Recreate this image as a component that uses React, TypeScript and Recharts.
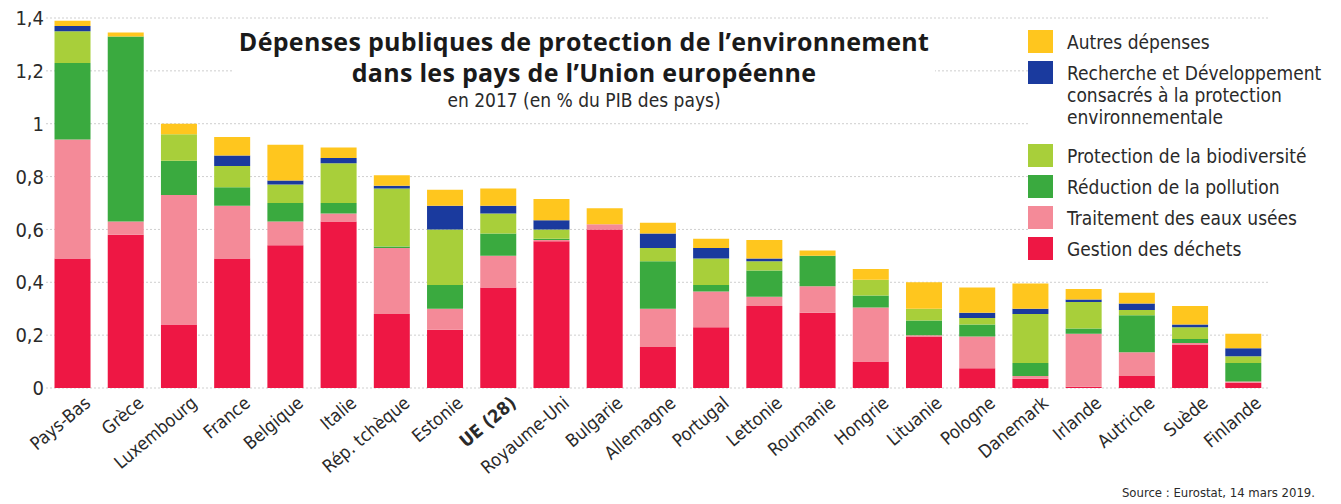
import React from 'react';
import { BarChart, Bar, XAxis, YAxis, CartesianGrid, Legend } from 'recharts';

const countries = ['Pays-Bas','Grèce','Luxembourg','France','Belgique','Italie','Rép. tchèque','Estonie','UE (28)','Royaume-Uni','Bulgarie','Allemagne','Portugal','Lettonie','Roumanie','Hongrie','Lituanie','Pologne','Danemark','Irlande','Autriche','Suède','Finlande'];
const dechets = [0.49,0.58,0.24,0.49,0.54,0.63,0.28,0.22,0.38,0.555,0.60,0.155,0.23,0.31,0.285,0.10,0.195,0.075,0.035,0.005,0.045,0.165,0.02];
const eaux = [0.45,0.05,0.49,0.20,0.09,0.03,0.25,0.08,0.12,0.005,0.02,0.145,0.135,0.035,0.10,0.205,0.005,0.12,0.01,0.20,0.09,0.005,0.005];
const pollution = [0.29,0.70,0.13,0.07,0.07,0.04,0.005,0.09,0.085,0.005,0,0.18,0.025,0.10,0.115,0.045,0.055,0.045,0.05,0.02,0.14,0.015,0.07];
const biodiv = [0.12,0,0.10,0.08,0.07,0.15,0.22,0.21,0.075,0.035,0,0.05,0.10,0.035,0,0.06,0.045,0.025,0.185,0.10,0.02,0.045,0.025];
const recherche = [0.02,0,0,0.04,0.015,0.02,0.01,0.09,0.03,0.035,0,0.055,0.04,0.01,0,0,0,0.02,0.02,0.01,0.025,0.01,0.03];
const autres = [0.02,0.015,0.04,0.07,0.135,0.04,0.04,0.06,0.065,0.08,0.06,0.04,0.035,0.07,0.02,0.04,0.10,0.095,0.095,0.04,0.04,0.07,0.055];
const yTicks = [0, 0.2, 0.4, 0.6, 0.8, 1, 1.2, 1.4];

const series = [
  { key: 'dechets', name: 'Gestion des déchets', color: '#EE1744' },
  { key: 'eaux', name: 'Traitement des eaux usées', color: '#F48A98' },
  { key: 'pollution', name: 'Réduction de la pollution', color: '#3AAA3F' },
  { key: 'biodiv', name: 'Protection de la biodiversité', color: '#A8CF3A' },
  { key: 'recherche', name: 'Recherche et Développement\nconsacrés à la protection\nenvironnementale', color: '#1A3A9E' },
  { key: 'autres', name: 'Autres dépenses', color: '#FFC61E' },
];

const data = countries.map((c, i) => ({
  country: c,
  dechets: dechets[i],
  eaux: eaux[i],
  pollution: pollution[i],
  biodiv: biodiv[i],
  recherche: recherche[i],
  autres: autres[i],
}));

const FONT = '"Liberation Sans Narrow", "DejaVu Sans Condensed", "Roboto", sans-serif';

const XTick = (props: any) => {
  const { x, y, payload } = props;
  const bold = payload.value === 'UE (28)';
  return (
    <g transform={`translate(${x + 19},${y + 15})`}>
      <text transform="rotate(-40)" textAnchor="end" fontFamily={FONT} fontSize={18} fill="#2a2a2a" fontWeight={bold ? 700 : 400}>
        {payload.value}
      </text>
    </g>
  );
};

const fmt = (v: number) => String(v).replace('.', ',');

const renderLegend = () => {
  const items = [...series].reverse();
  return (
    <div style={{ background: '#fff', fontFamily: FONT, fontSize: 19, color: '#2a2a2a', paddingTop: 2 }}>
      {items.map((p, i) => {
        const lines = p.name.split('\n');
        return (
          <div key={i} style={{ display: 'flex', alignItems: 'flex-start', marginBottom: lines.length > 1 ? 16 : 8 }}>
            <div style={{ width: 25, height: 23, background: p.color, marginRight: 14, flexShrink: 0 }} />
            <div style={{ lineHeight: '22px', marginTop: 1 }}>
              {lines.map((l, j) => <div key={j}>{l}</div>)}
            </div>
          </div>
        );
      })}
    </div>
  );
};

export default function App() {
  return (
    <div style={{ position: 'absolute', left: 0, top: 0, width: 1341, height: 504, background: '#fff' }}>
      <BarChart width={1341} height={504} data={data} margin={{ top: 18, right: 71, bottom: 0, left: 0 }} barCategoryGap="16%">
        <CartesianGrid vertical={false} stroke="#cfcfcf" strokeDasharray="2 2" />
        <XAxis dataKey="country" interval={0} axisLine={false} tickLine={false} tickSize={0} height={116} tick={<XTick />} />
        <YAxis domain={[0, 1.4]} ticks={yTicks} width={46} axisLine={false} tickLine={false} tickSize={0} tickMargin={2}
          tickFormatter={fmt} tick={{ fontFamily: FONT, fontSize: 20, fill: '#2a2a2a' }} />
        {series.map((s) => (
          <Bar key={s.key} dataKey={s.key} name={s.name} stackId="a" fill={s.color} isAnimationActive={false} />
        ))}
        <Legend layout="horizontal" verticalAlign="middle" align="center" content={renderLegend}
          wrapperStyle={{ position: 'absolute', left: 1028, top: 28, width: 308, height: 'auto' }} />
      </BarChart>
      <div style={{ position: 'absolute', left: 204, top: 26, width: 760, textAlign: 'center', fontFamily: '"Open Sans", sans-serif', color: '#1a1a1a', pointerEvents: 'none' }}>
        <div style={{ display: 'inline-block', background: '#fff', padding: '0 6px' }}>
          <div style={{ fontWeight: 700, fontSize: 25, lineHeight: '31px', letterSpacing: 0.3 }}>Dépenses publiques de protection de l’environnement</div>
          <div style={{ fontWeight: 700, fontSize: 25, lineHeight: '31px', letterSpacing: 0.3 }}>dans les pays de l’Union européenne</div>
          <div style={{ fontFamily: FONT, fontSize: 19, lineHeight: '24px', color: '#2a2a2a' }}>en 2017 (en % du PIB des pays)</div>
        </div>
      </div>
      <div style={{ position: 'absolute', right: 26, top: 485, fontFamily: FONT, fontSize: 13, color: '#2a2a2a' }}>Source : Eurostat, 14 mars 2019.</div>
    </div>
  );
}
